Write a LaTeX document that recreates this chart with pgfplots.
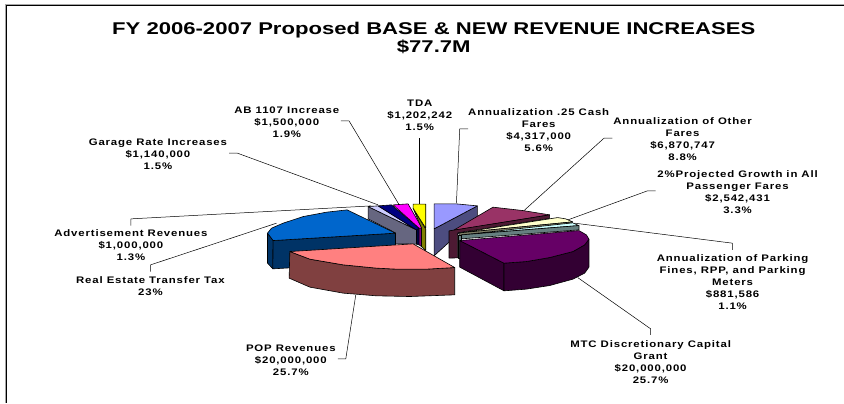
\documentclass[border=0pt]{standalone}
\usepackage{fontspec}
\usepackage{pgfplots}
\pgfplotsset{compat=1.18}
\setmainfont{Liberation Sans}
\newfontfamily\labfont[LetterSpace=9,FakeStretch=1.2]{Liberation Sans}
\newfontfamily\titfont[FakeStretch=1.3]{Liberation Sans}
\definecolor{lav}{HTML}{9999FF}\definecolor{lavD}{HTML}{4D4D80}
\definecolor{mar}{HTML}{993366}\definecolor{marD}{HTML}{4D1A33}
\definecolor{crm}{HTML}{FFFFCC}\definecolor{crmD}{HTML}{808066}
\definecolor{tea}{HTML}{CCFFFF}\definecolor{teaD}{HTML}{668080}
\definecolor{pur}{HTML}{660066}\definecolor{purD}{HTML}{330033}
\definecolor{pnk}{HTML}{FF8080}\definecolor{pnkD}{HTML}{804040}
\definecolor{blu}{HTML}{0066CC}\definecolor{bluD}{HTML}{003366}
\definecolor{lil}{HTML}{CCCCFF}\definecolor{lilD}{HTML}{666680}
\definecolor{nvy}{HTML}{000080}\definecolor{nvyD}{HTML}{000040}
\definecolor{mag}{HTML}{FF00FF}\definecolor{magD}{HTML}{800080}
\definecolor{yel}{HTML}{FFFF00}\definecolor{yelD}{HTML}{808000}
\newcommand{\lab}[3]{\node[align=center,inner sep=0pt,font=\labfont\bfseries\fontsize{9.5}{12}\selectfont] at (axis cs:#1,#2) {#3};}
\begin{document}
\begin{tikzpicture}
\begin{axis}[
    width=844pt, height=403pt, scale only axis,
    xmin=0, xmax=844, ymin=0, ymax=403, y dir=reverse,
    hide axis, clip=false,
    every axis plot/.append style={draw=black, line width=0.6pt, line join=round},
]
\path (axis cs:0,0) (axis cs:844,403);
% frame
\addplot[draw=gray!70, line width=1pt] coordinates {(5.7,403) (5.7,4.5) (844,4.5)};
\addplot[draw=black, line width=1pt] coordinates {(6.7,403) (6.7,5.5) (844,5.5)};

% annualization .25 cash fares
\addplot[fill=lavD] coordinates {(434.3,229) (477.7,206) (477.7,216.7) (434.3,256)} -- cycle;
\addplot[fill=lav] coordinates {(434.3,229) (434.3,204) (456.7,204) (477.7,206)} -- cycle;
% other fares
\addplot[fill=mar] coordinates {(453.3,230.7) (493.3,207.3) (523.3,210.7) (550,215)} -- cycle;
\addplot[fill=marD] coordinates {(449.3,231) (550,215) (550,218.5) (458,233) (458,258) (449.3,258.3)} -- cycle;
% 2% growth
\addplot[fill=crm] coordinates {(460,233) (558,217.7) (566,219) (573,222)} -- cycle;
\addplot[fill=crmD] coordinates {(460,233) (573,222) (573,224) (460,237)} -- cycle;
% parking
\addplot[fill=tea] coordinates {(461.7,235) (573,223) (579.3,225.7)} -- cycle;
\addplot[fill=teaD] coordinates {(461.7,235) (579.3,225.7) (579.3,230) (461.7,239)} -- cycle;
\addplot[fill=teaD] coordinates {(458.3,235) (461.7,235) (461.7,258) (458.3,258)} -- cycle;
% MTC
\addplot[fill=purD] coordinates {(460,240.7) (504.3,263.3) (504.3,291) (460,267.3)} -- cycle;
\addplot[fill=purD] coordinates {(504.3,263.3) (526.7,261.7) (550,257.7) (573.3,251.7) (585,245) (589.3,239.3) (589.3,267.3) (585,273.3) (573.3,279.3) (550,285.7) (526.7,289.3) (504.3,291)} -- cycle;
\addplot[fill=pur] coordinates {(460,240.7) (504.3,263.3) (526.7,261.7) (550,257.7) (573.3,251.7) (585,245) (589.3,239.3) (586.7,235) (579.3,230.7)} -- cycle;
% advertisement
\addplot[fill=lilD] coordinates {(368.3,206.7) (416.7,230) (416.7,244.3) (395.7,244) (395.7,233) (368.3,219)} -- cycle;
\addplot[fill=lil] coordinates {(368.3,206.7) (378.3,206) (416.7,230)} -- cycle;
% garage
\addplot[fill=nvyD] coordinates {(416.7,230) (419.3,228.3) (419.3,245) (416.7,244.3)} -- cycle;
\addplot[fill=nvy] coordinates {(378.3,206) (391.7,205) (419.3,228.3) (416.7,230)} -- cycle;
% AB 1107
\addplot[fill=magD] coordinates {(419.3,228.3) (422.3,228.3) (422.3,247) (419.3,245)} -- cycle;
\addplot[fill=mag] coordinates {(393.3,205) (408.3,204) (422.3,228.3) (419.3,228.3)} -- cycle;
% TDA
\addplot[fill=yelD] coordinates {(413.3,208.3) (426,229.3) (426,250.7) (421.7,246.7) (421.7,228)} -- cycle;
\addplot[fill=yel] coordinates {(413.3,204.3) (426,204.3) (426,228.3) (413.3,208.3)} -- cycle;
% real estate
\addplot[fill=bluD] coordinates {(267.7,233.3) (273.3,240.7) (273,269) (267.7,263.3)} -- cycle;
\addplot[fill=bluD] coordinates {(273.3,240.7) (395.7,233.3) (395.7,258) (290,268) (273,269)} -- cycle;
\addplot[fill=blu] coordinates {(267.7,233.3) (273.3,240.7) (395.7,233.3) (347.3,210) (326.7,212.3) (303.3,216.7) (283.3,223.3) (271.7,228.3)} -- cycle;
% POP
\addplot[fill=pnkD] coordinates {(290,251.7) (310,259.3) (343.3,265) (376.7,268.3) (396.7,269.3) (426.7,269.3) (455,267.7) (455,295) (410,296.7) (376.7,296) (343.3,293.3) (310,287.3) (289.3,278.3)} -- cycle;
\addplot[fill=pnk] coordinates {(290,251.7) (413.3,244) (455,267.7) (426.7,269.3) (396.7,269.3) (376.7,268.3) (343.3,265) (310,259.3)} -- cycle;

% leaders
\addplot[line width=0.5pt] coordinates {(341,121) (349.3,121) (399,204.3)};
\addplot[line width=0.5pt] coordinates {(229.3,153.3) (237.7,153.3) (378.3,205)};
\addplot[line width=0.5pt] coordinates {(131,225.7) (131,219) (371.7,206)};
\addplot[line width=0.5pt] coordinates {(150.7,271.7) (150.7,265) (276.7,223.3)};
\addplot[line width=0.5pt] coordinates {(419.5,138.3) (419.5,204.3)};
\addplot[line width=0.5pt] coordinates {(468.3,129) (460,129) (456.7,203.3)};
\addplot[line width=0.5pt] coordinates {(612.7,138.3) (604.3,138.3) (524.3,210.7)};
\addplot[line width=0.5pt] coordinates {(656,191) (647.7,191) (568.3,220)};
\addplot[line width=0.5pt] coordinates {(732.7,250) (732.7,243.3) (575,223.3)};
\addplot[line width=0.5pt] coordinates {(338,359) (346,359) (356,295)};
\addplot[line width=0.5pt] coordinates {(651,335) (651,329) (578,277.7)};

% title
\node[align=center,inner sep=0pt,font=\titfont\bfseries\fontsize{17}{16}\selectfont] at (axis cs:434,38) {FY 2006-2007 Proposed BASE \& NEW REVENUE INCREASES\\\$77.7M};

% labels
\lab{287}{122}{AB 1107 Increase\\\$1,500,000\\1.9\%}
\lab{158}{154}{Garage Rate Increases\\\$1,140,000\\1.5\%}
\lab{131}{245}{Advertisement Revenues\\\$1,000,000\\1.3\%}
\lab{150.5}{286}{Real Estate Transfer Tax\\23\%}
\lab{420}{115}{TDA\\\$1,202,242\\1.5\%}
\lab{539}{130}{Annualization .25 Cash\\Fares\\\$4,317,000\\5.6\%}
\lab{683}{139}{Annualization of Other\\Fares\\\$6,870,747\\8.8\%}
\lab{738}{192}{2\%Projected Growth in All\\Passenger Fares\\\$2,542,431\\3.3\%}
\lab{733}{282}{Annualization of Parking\\Fines, RPP, and Parking\\Meters\\\$881,586\\1.1\%}
\lab{651}{362}{MTC Discretionary Capital\\Grant\\\$20,000,000\\25.7\%}
\lab{291}{360}{POP Revenues\\\$20,000,000\\25.7\%}
\end{axis}
\end{tikzpicture}
\end{document}
